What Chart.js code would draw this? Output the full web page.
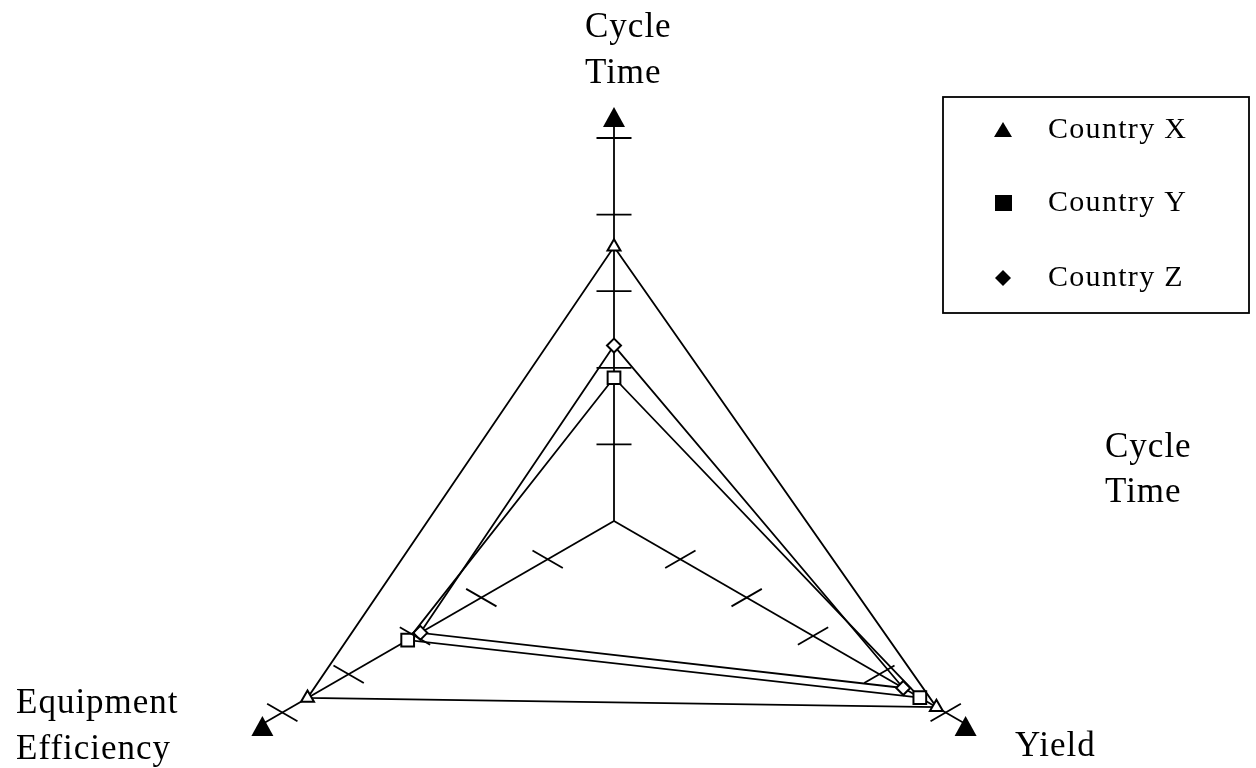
<!DOCTYPE html>
<html>
<head>
<meta charset="utf-8">
<script src="https://cdn.jsdelivr.net/npm/chart.js@4.4.1/dist/chart.umd.min.js"></script>
<style>
  html, body { margin: 0; padding: 0; background: #fff; }
  #wrap { width: 1256px; height: 768px; overflow: hidden; }
</style>
</head>
<body>
<div id="wrap"><canvas id="radar" width="1256" height="930"></canvas></div>
<script>
// axes, clockwise from the top
const axes = ['Cycle Time', 'Yield', 'Equipment Efficiency'];

// values, in tick units
const countryX = [3.58, 4.86, 4.62];
const countryY = [1.87, 4.61, 3.11];
const countryZ = [2.29, 4.36, 2.92];

const tickValues = [1, 2, 3, 4, 5];
const axisEnd = 5.3;

const FONT = '"Liberation Serif", "Times New Roman", serif';

// tick marks, end triangles and all the texts
const decorPlugin = {
    id: 'decor',
    afterDatasetsDraw(chart) {
        const ctx = chart.ctx;
        const r = chart.scales.r;
        ctx.save();
        ctx.strokeStyle = '#000';
        ctx.fillStyle = '#000';
        ctx.lineWidth = 1.8;

        axes.forEach((a, i) => {
            tickValues.forEach(v => {
                const p = r.getPointPositionForValue(i, v);
                // top axis: flat ticks; slanted axes: ticks mirrored about the horizontal
                let dx = Math.cos(p.angle), dy = -Math.sin(p.angle);
                if (Math.abs(dx) < 0.01) { dx = 1; dy = 0; }
                ctx.beginPath();
                ctx.moveTo(p.x - dx * 17.5, p.y - dy * 17.5);
                ctx.lineTo(p.x + dx * 17.5, p.y + dy * 17.5);
                ctx.stroke();
            });
            // upright filled triangle at the end of each axis
            const e = r.getPointPositionForValue(i, axisEnd);
            ctx.beginPath();
            ctx.moveTo(e.x, e.y - 8);
            ctx.lineTo(e.x + 11, e.y + 12);
            ctx.lineTo(e.x - 11, e.y + 12);
            ctx.closePath();
            ctx.fill();
        });
        ctx.restore();
    },
    afterDraw(chart) {
        const ctx = chart.ctx;
        ctx.save();
        ctx.fillStyle = '#000';
        ctx.textBaseline = 'alphabetic';
        ctx.font = '35px ' + FONT;
        ctx.letterSpacing = '1px';

        ctx.textAlign = 'left';
        ctx.fillText('Cycle', 585, 37);
        ctx.fillText('Time', 585, 83);

        ctx.fillText('Cycle', 1105, 457);
        ctx.fillText('Time', 1105, 502);

        ctx.fillText('Equipment', 16, 713);
        ctx.fillText('Efficiency', 16, 759);

        ctx.fillText('Yield', 1015, 756);

        // legend box
        ctx.lineWidth = 1.8;
        ctx.strokeStyle = '#000';
        ctx.strokeRect(943, 97, 306, 216);

        ctx.font = '30px ' + FONT;
        ctx.letterSpacing = '1.3px';
        const rows = [130, 203, 278];
        chart.data.datasets.forEach((ds, i) => {
            const y = rows[i];
            ctx.beginPath();
            if (ds.pointStyle === 'triangle') {
                ctx.moveTo(1003, y - 8);
                ctx.lineTo(1012, y + 7);
                ctx.lineTo(994, y + 7);
            } else if (ds.pointStyle === 'rect') {
                ctx.rect(995, y - 8, 17, 16);
            } else {
                ctx.moveTo(1003, y - 8);
                ctx.lineTo(1011, y);
                ctx.lineTo(1003, y + 8);
                ctx.lineTo(995, y);
            }
            ctx.closePath();
            ctx.fill();
            ctx.fillText(ds.label, 1048, y + 8);
        });
        ctx.restore();
    }
};

function series(label, values, style, radius) {
    return {
        label: label,
        data: values,
        borderColor: '#000',
        borderWidth: 1.8,
        backgroundColor: 'transparent',
        fill: false,
        pointStyle: style,
        pointRadius: radius,
        pointBackgroundColor: '#fff',
        pointBorderColor: '#000',
        pointBorderWidth: 2
    };
}

new Chart(document.getElementById('radar'), {
    type: 'radar',
    data: {
        labels: axes,
        datasets: [
            series('Country X', countryX, 'triangle', 7.5),
            series('Country Y', countryY, 'rect', 9),
            series('Country Z', countryZ, 'rectRot', 7)
        ]
    },
    options: {
        responsive: false,
        animation: false,
        layout: { padding: { left: 0, right: 28, top: 115, bottom: 3 } },
        plugins: {
            legend: { display: false },
            tooltip: { enabled: false }
        },
        elements: { line: { tension: 0 } },
        scales: {
            r: {
                min: 0,
                max: axisEnd,
                ticks: { display: false, stepSize: 1 },
                grid: { display: false },
                pointLabels: { display: false },
                angleLines: { display: true, color: '#000', lineWidth: 1.8 }
            }
        }
    },
    plugins: [decorPlugin]
});
</script>
</body>
</html>
